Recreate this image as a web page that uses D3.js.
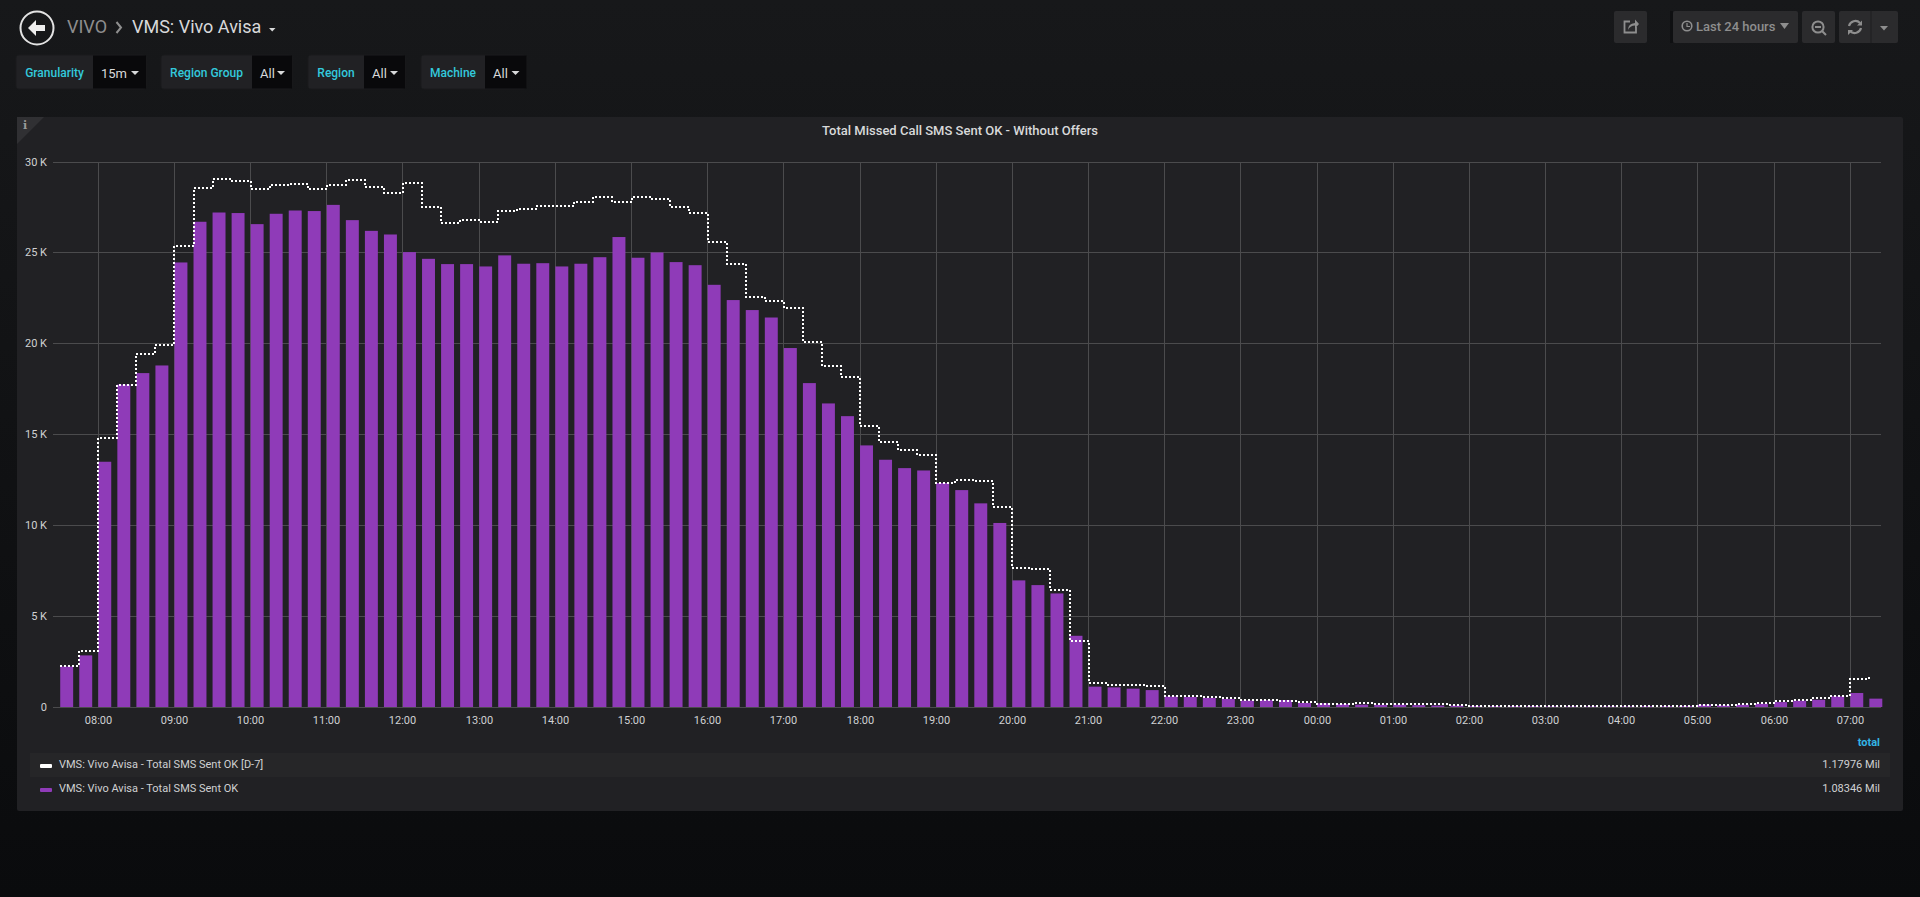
<!doctype html>
<html lang="en">
<head>
<meta charset="UTF-8">
<title>VMS: Vivo Avisa</title>
<script src="https://d3js.org/d3.v7.min.js"></script>
<style>
html, body { margin: 0; padding: 0; background: #0b0c0e; overflow: hidden; }
svg { display: block; font-family: Roboto, sans-serif; }
.axis path.domain { display: none; }
.axis line { stroke: #4b4b4d; stroke-width: 1; shape-rendering: crispEdges; }
.axis text { fill: #d0d1d3; font-size: 11px; font-family: Roboto, sans-serif; }
</style>
</head>
<body>
<div id="chart-area"></div>
<script>

// 15 minute slots, first one at 07:30, last one at 07:15 next day
const firstSlot = new Date(2018, 5, 11, 7, 30);
const lastSlot = new Date(2018, 5, 12, 7, 15);

const sentOk = [
    2230, 2840, 13500, 17750, 18380, 18800, 24470, 26710, 27220, 27190, 26580, 27150,
    27330, 27300, 27640, 26800, 26210, 26010, 25040, 24670, 24380, 24380, 24250, 24860,
    24400, 24430, 24250, 24400, 24760, 25870, 24730, 25020, 24490, 24320, 23240, 22400,
    21850, 21440, 19760, 17830, 16710, 16010, 14400, 13610, 13150, 13020, 12330, 11940,
    11210, 10130, 6970, 6710, 6250, 3920, 1120, 1080, 1010, 930, 580, 550,
    500, 440, 360, 380, 380, 220, 200, 160, 130, 120, 130, 100,
    80, 80, 60, 50, 50, 50, 40, 40, 40, 40, 40, 50,
    50, 60, 130, 90, 130, 180, 270, 350, 400, 590, 770, 460
];

const sentOkD7 = [
    2270, 3100, 14800, 17740, 19430, 19900, 25350, 28580, 29090, 28950, 28530, 28740,
    28800, 28510, 28740, 29020, 28630, 28300, 28840, 27530, 26620, 26800, 26670, 27280,
    27390, 27570, 27590, 27790, 28070, 27810, 28050, 27970, 27550, 27220, 25610, 24400,
    22580, 22360, 21940, 20090, 18780, 18140, 15480, 14600, 14160, 13850, 12330, 12470,
    12420, 11020, 7630, 7570, 6440, 3630, 1300, 1210, 1190, 1130, 620, 620,
    530, 490, 400, 370, 350, 270, 180, 160, 200, 190, 180, 180,
    150, 110, 80, 70, 70, 60, 60, 60, 80, 80, 60, 60,
    50, 70, 90, 130, 150, 200, 350, 400, 490, 620, 1560, 1780
];

const yTicks = [0, 5000, 10000, 15000, 20000, 25000, 30000];
const legendNames = ['VMS: Vivo Avisa - Total SMS Sent OK [D-7]', 'VMS: Vivo Avisa - Total SMS Sent OK'];
const legendTotals = ['1.17976 Mil', '1.08346 Mil'];
const variableNames = ['Granularity', 'Region Group', 'Region', 'Machine'];
const variableValues = ['15m', 'All', 'All', 'All'];

const slots = d3.timeMinute.every(15).range(firstSlot, new Date(+lastSlot + 1));

const W = 1920, H = 897;
const plot = { left: 53, right: 1881, top: 162, bottom: 707 };

const svg = d3.select('#chart-area').append('svg')
    .attr('width', W)
    .attr('height', H);

// page background
const grad = svg.append('defs').append('linearGradient')
    .attr('id', 'page-bg')
    .attr('x1', 0).attr('y1', 0).attr('x2', 0).attr('y2', 1);
grad.append('stop').attr('offset', '0%').attr('stop-color', '#17181a');
grad.append('stop').attr('offset', '100%').attr('stop-color', '#0a0b0d');
svg.append('rect').attr('width', W).attr('height', H).attr('fill', 'url(#page-bg)');

// ---- header ----
const head = svg.append('g');
head.append('circle').attr('cx', 37).attr('cy', 28).attr('r', 16.5)
    .attr('fill', 'none').attr('stroke', '#e3e3e3').attr('stroke-width', 2);
head.append('path').attr('d', 'M28 28 L36 20 L36 25 L45 25 L45 31 L36 31 L36 36 Z')
    .attr('fill', '#eeeeee');
head.append('text').attr('x', 67).attr('y', 33).text('VIVO')
    .attr('fill', '#8e8e8e').attr('font-size', 18);
head.append('path').attr('d', 'M116.5 22 L121 27.5 L116.5 33')
    .attr('fill', 'none').attr('stroke', '#8e8e8e').attr('stroke-width', 2);
head.append('text').attr('x', 132).attr('y', 33).text('VMS: Vivo Avisa')
    .attr('fill', '#d8d9da').attr('font-size', 18);
head.append('path').attr('d', 'M269 28 L275.5 28 L272.2 31.5 Z').attr('fill', '#d8d9da');

// variable pickers
const variableBoxes = [
    { x0: 16, x1: 93, x2: 146 },
    { x0: 161, x1: 252, x2: 292 },
    { x0: 308, x1: 364, x2: 405 },
    { x0: 421, x1: 485, x2: 526.5 }
];
const picker = svg.append('g').selectAll('g')
    .data(variableBoxes)
    .join('g');
picker.append('rect')
    .attr('x', d => d.x0).attr('y', 55)
    .attr('width', d => d.x2 - d.x0).attr('height', 34).attr('rx', 3)
    .attr('fill', '#212124').attr('stroke', '#1a1b1d');
picker.append('rect')
    .attr('x', d => d.x1).attr('y', 55.5)
    .attr('width', d => d.x2 - d.x1).attr('height', 33)
    .attr('fill', '#09090b');
picker.append('text')
    .attr('x', d => (d.x0 + d.x1) / 2).attr('y', 76.5)
    .attr('text-anchor', 'middle')
    .attr('fill', '#33c9dc').attr('font-size', 12).attr('font-weight', 500)
    .text((d, i) => variableNames[i]);
picker.append('text')
    .attr('x', d => d.x1 + 8).attr('y', 77.5)
    .attr('fill', '#d8d9da').attr('font-size', 13)
    .text((d, i) => variableValues[i]);
picker.append('path')
    .attr('d', d => `M${d.x2 - 15} 71 L${d.x2 - 7} 71 L${d.x2 - 11} 75 Z`)
    .attr('fill', '#d8d9da');

// toolbar on the right
const toolbar = svg.append('g');
[[1614, 33], [1673, 125], [1802, 33], [1839, 59]].forEach(b => {
    toolbar.append('rect').attr('x', b[0]).attr('y', 11)
        .attr('width', b[1]).attr('height', 32).attr('rx', 2)
        .attr('fill', '#2b2b2d');
});
toolbar.append('rect').attr('x', 1670).attr('y', 11).attr('width', 3).attr('height', 32).attr('fill', '#0f1012');
toolbar.append('line').attr('x1', 1871).attr('x2', 1871).attr('y1', 11).attr('y2', 43)
    .attr('stroke', '#1f1f21');
const iconCol = '#8e8e8e';
toolbar.append('path')
    .attr('d', 'M1636 27 V32.5 H1624.5 V21.5 H1630')
    .attr('fill', 'none').attr('stroke', iconCol).attr('stroke-width', 1.8);
toolbar.append('path')
    .attr('d', 'M1628 30 Q1628 23.5 1635 23 V19.5 L1639 24 L1635 28.5 V25.5 Q1630 25.5 1628 30 Z')
    .attr('fill', iconCol);
toolbar.append('circle').attr('cx', 1687).attr('cy', 26).attr('r', 4.8)
    .attr('fill', 'none').attr('stroke', iconCol).attr('stroke-width', 1.6);
toolbar.append('path').attr('d', 'M1687 23 V26.5 H1690')
    .attr('fill', 'none').attr('stroke', iconCol).attr('stroke-width', 1.2);
toolbar.append('text').attr('x', 1696).attr('y', 31).text('Last 24 hours')
    .attr('fill', iconCol).attr('font-size', 13).attr('font-weight', 500);
toolbar.append('path').attr('d', 'M1780 23 L1789 23 L1784.5 29 Z').attr('fill', iconCol);
toolbar.append('circle').attr('cx', 1818).attr('cy', 27).attr('r', 5.6)
    .attr('fill', 'none').attr('stroke', iconCol).attr('stroke-width', 2);
toolbar.append('path').attr('d', 'M1815 27 H1821 M1822 31 L1826 35')
    .attr('fill', 'none').attr('stroke', iconCol).attr('stroke-width', 2);
toolbar.append('path')
    .attr('d', 'M1849 26 A6.5 6.5 0 0 1 1860 23 M1861 28 A6.5 6.5 0 0 1 1850 31')
    .attr('fill', 'none').attr('stroke', iconCol).attr('stroke-width', 2.2);
toolbar.append('path').attr('d', 'M1857 25.5 L1862 25.5 L1862 20.5 Z M1853 30 L1848 30 L1848 35 Z').attr('fill', iconCol);
toolbar.append('path').attr('d', 'M1880 26 L1888 26 L1884 30.5 Z').attr('fill', iconCol);

// ---- panel ----
svg.append('rect')
    .attr('x', 17).attr('y', 117).attr('width', 1886).attr('height', 694).attr('rx', 2)
    .attr('fill', '#212124');
svg.append('path').attr('d', 'M17 117 H44 L17 144 Z').attr('fill', '#303033');
svg.append('text').attr('x', 25).attr('y', 129).attr('text-anchor', 'middle')
    .attr('fill', '#9a9a9a').attr('font-size', 11).attr('font-weight', 700)
    .attr('font-family', '"DejaVu Serif", serif').text('i');
svg.append('text')
    .attr('x', 960).attr('y', 134.5).attr('text-anchor', 'middle')
    .attr('fill', '#d8d9da').attr('font-size', 13).attr('font-weight', 500)
    .text('Total Missed Call SMS Sent OK - Without Offers');

// ---- scales ----
// 07:30 sits half an hour before 08:00, 07:15 a quarter hour after 07:00
const hourWidth = (1850.3 - 98.3) / 23;
const x = d3.scaleTime()
    .domain([firstSlot, lastSlot])
    .range([98.3 - hourWidth / 2, 1850.3 + hourWidth / 4]);

const y = d3.scaleLinear()
    .domain([0, 30000])
    .range([plot.bottom, plot.top]);

const barWidth = (x(slots[1]) - x(slots[0])) * 0.68;

// ---- axes and grid ----
const hourTicks = slots.filter(d => d.getMinutes() === 0);

const xAxis = svg.append('g')
    .attr('class', 'axis x-axis')
    .attr('transform', `translate(0,${plot.bottom})`)
    .call(d3.axisBottom(x)
        .tickValues(hourTicks)
        .tickFormat(d3.timeFormat('%H:%M'))
        .tickSize(-(plot.bottom - plot.top))
        .tickPadding(9));
xAxis.selectAll('.tick')
    .attr('transform', d => `translate(${Math.floor(x(d)) + 0.5},0)`);

const yAxis = svg.append('g')
    .attr('class', 'axis y-axis')
    .attr('transform', `translate(${plot.left},0)`)
    .call(d3.axisLeft(y)
        .tickValues(yTicks)
        .tickFormat(d => d === 0 ? '0' : `${d / 1000} K`)
        .tickSize(-(plot.right - plot.left))
        .tickPadding(6));
yAxis.selectAll('.tick')
    .attr('transform', d => `translate(0,${Math.floor(y(d)) + 0.5})`);

// ---- series ----
svg.append('g').selectAll('rect')
    .data(sentOk)
    .join('rect')
    .attr('x', (d, i) => x(slots[i]))
    .attr('y', d => y(d))
    .attr('width', barWidth)
    .attr('height', d => plot.bottom - y(d))
    .attr('fill', '#8f3bb8');

// snapped to whole pixels so the 2px dots stay crisp
const stepLine = d3.line()
    .x((d, i) => Math.round(x(slots[i])))
    .y(d => Math.round(y(d)))
    .curve(d3.curveStepAfter);

svg.append('path')
    .datum(sentOkD7)
    .attr('d', stepLine)
    .attr('fill', 'none')
    .attr('stroke', '#ffffff')
    .attr('stroke-width', 2)
    .attr('stroke-dasharray', '2,2');

// ---- legend ----
svg.append('text').attr('x', 1880).attr('y', 746).attr('text-anchor', 'end')
    .attr('fill', '#33b5e5').attr('font-size', 11).attr('font-weight', 700).text('total');
svg.append('rect').attr('x', 30).attr('y', 753).attr('width', 1860).attr('height', 24)
    .attr('fill', '#262628');

const legendColors = ['#ffffff', '#8f3bb8'];
const legendRow = svg.append('g').selectAll('g')
    .data(legendNames)
    .join('g')
    .attr('transform', (d, i) => `translate(0,${764 + i * 24})`);
legendRow.append('rect')
    .attr('x', 40).attr('y', 0).attr('width', 12).attr('height', 4).attr('rx', 1)
    .attr('fill', (d, i) => legendColors[i]);
legendRow.append('text')
    .attr('x', 59).attr('y', 4)
    .attr('fill', '#d0d1d3').attr('font-size', 11)
    .text(d => d);
legendRow.append('text')
    .attr('x', 1880).attr('y', 4).attr('text-anchor', 'end')
    .attr('fill', '#d0d1d3').attr('font-size', 11)
    .text((d, i) => legendTotals[i]);

</script>
</body>
</html>
